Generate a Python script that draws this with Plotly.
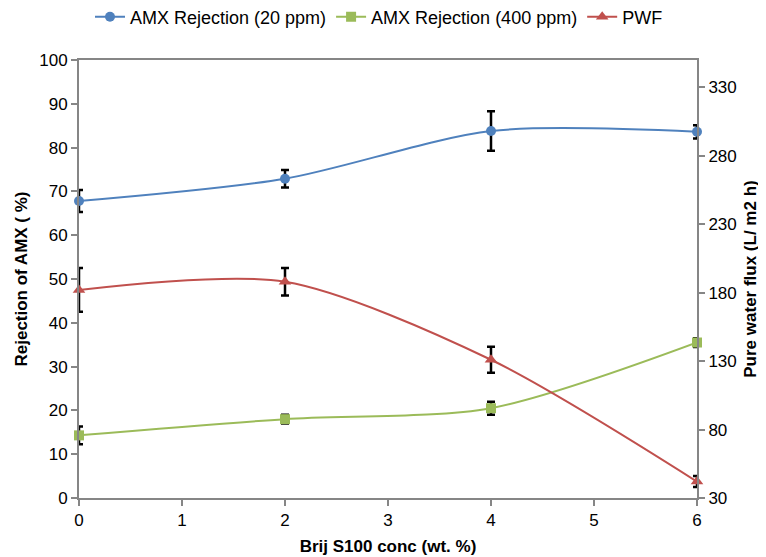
import plotly.graph_objects as go

conc = [0, 2, 4, 6]
rej20 = [67.8, 72.9, 83.8, 83.6]
rej20_err = [2.5, 2.0, 4.5, 1.5]
rej400 = [14.3, 18.0, 20.5, 35.5]
rej400_err = [2.0, 1.0, 1.5, 1.0]
pwf = [182, 188, 131, 42]
pwf_err = [16, 10, 9.5, 4]

blue = "#4f81bd"
green = "#9bbb59"
red = "#c0504d"
axis_col = "#868686"

def eb(vals):
    return dict(type="data", array=vals, visible=True, color="black", thickness=2.5, width=4)

fig = go.Figure()
fig.add_trace(go.Scatter(x=conc, y=rej20, name="AMX Rejection (20 ppm)", mode="lines+markers",
                         line=dict(color=blue, width=2, shape="spline", smoothing=0.8), cliponaxis=False,
                         marker=dict(symbol="circle", size=10, color=blue), error_y=eb(rej20_err)))
fig.add_trace(go.Scatter(x=conc, y=rej400, name="AMX Rejection (400 ppm)", mode="lines+markers",
                         line=dict(color=green, width=2, shape="spline", smoothing=0.8), cliponaxis=False,
                         marker=dict(symbol="square", size=10, color=green), error_y=eb(rej400_err)))
fig.add_trace(go.Scatter(x=conc, y=pwf, name="PWF", mode="lines+markers", yaxis="y2",
                         line=dict(color=red, width=2, shape="spline", smoothing=0.8), cliponaxis=False,
                         marker=dict(symbol="triangle-up", size=11, color=red), error_y=eb(pwf_err)))

font = "Liberation Sans, Arial, sans-serif"
W, H = 758, 549
fig.update_layout(
    width=W, height=H,
    margin=dict(l=71, r=69, t=52, b=59, autoexpand=False),
    paper_bgcolor="white", plot_bgcolor="white",
    font=dict(family=font, size=17, color="black"),
    showlegend=True,
    legend=dict(orientation="h", x=371 / W, xref="container", xanchor="center",
                y=1 - 9 / H, yref="container", yanchor="middle",
                font=dict(size=18), traceorder="normal"),
    xaxis=dict(range=[0, 6], tickvals=[0, 1, 2, 3, 4, 5, 6], showgrid=False, zeroline=False,
               showline=True, linecolor=axis_col, linewidth=2, mirror=True, automargin=False,
               ticks="outside", tickcolor=axis_col, ticklen=6, tickwidth=1.5,
               title=dict(text="<b>Brij S100 conc (wt. %)</b>", font=dict(size=17), standoff=11)),
    yaxis=dict(range=[0, 100], dtick=10, showgrid=False, zeroline=False, automargin=False,
               showline=True, linecolor=axis_col, linewidth=2,
               ticks="outside", tickcolor=axis_col, ticklen=6, tickwidth=1.5,
               title=dict(text="<b>Rejection of AMX ( %)</b>", font=dict(size=17), standoff=7)),
    yaxis2=dict(range=[30, 350], tickvals=[30, 80, 130, 180, 230, 280, 330], overlaying="y", side="right",
                showgrid=False, zeroline=False, showline=True, linecolor=axis_col, linewidth=2,
                automargin=False,
                ticks="outside", tickcolor=axis_col, ticklen=6, tickwidth=1.5,
                title=dict(text="<b>Pure water flux (L/ m2 h)</b>", font=dict(size=17), standoff=8)),
)
fig.write_html("out.html")
